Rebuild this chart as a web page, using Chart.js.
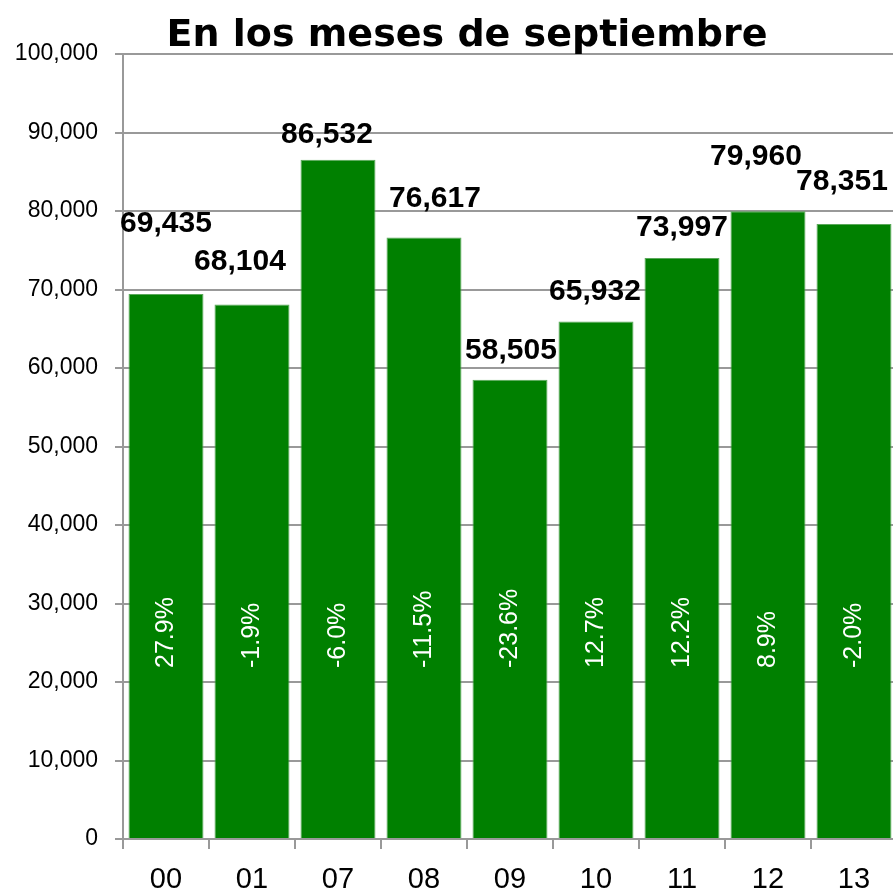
<!DOCTYPE html>
<html>
<head>
<meta charset="utf-8">
<script src="https://cdn.jsdelivr.net/npm/chart.js@4/dist/chart.umd.min.js"></script>
<style>
  html, body { margin: 0; padding: 0; background: #fff; overflow: hidden; }
  #wrap { width: 897px; height: 894px; }
</style>
</head>
<body>
<div id="wrap"><canvas id="myChart"></canvas></div>
<script>
var titleText = 'En los meses de septiembre';
var years = ['00', '01', '07', '08', '09', '10', '11', '12', '13'];
var visitors = [69435, 68104, 86532, 76617, 58505, 65932, 73997, 79960, 78351];
var change = [27.9, -1.9, -6.0, -11.5, -23.6, 12.7, 12.2, 8.9, -2.0];
var yTicks = [0, 10000, 20000, 30000, 40000, 50000, 60000, 70000, 80000, 90000, 100000];

// hand placement of the value labels, as in the original slide
var labelNudge = [[0, -70], [-12, -43], [-11, -25], [11, -39], [1, -29], [-1, -30], [0, -30], [-12, -55], [-12, -42]];

var gridGray = '#999999';

var labelsPlugin = {
    id: 'barLabels',
    afterDatasetsDraw: function(chart) {
        var ctx = chart.ctx;
        var meta = chart.getDatasetMeta(0);
        var yScale = chart.scales.y;
        ctx.save();
        meta.data.forEach(function(bar, i) {
            // value above the bar
            ctx.font = 'bold 30px "Liberation Sans", Arial, sans-serif';
            ctx.fillStyle = '#000';
            ctx.textAlign = 'center';
            ctx.textBaseline = 'middle';
            ctx.fillText(visitors[i].toLocaleString('en-US'), bar.x + labelNudge[i][0], bar.y + labelNudge[i][1]);
            // change inside the bar, rotated
            ctx.save();
            ctx.translate(bar.x, yScale.getPixelForValue(0) - 171);
            ctx.rotate(-Math.PI / 2);
            ctx.font = '25px "Liberation Sans", Arial, sans-serif';
            ctx.fillStyle = '#fff';
            ctx.textAlign = 'left';
            ctx.textBaseline = 'middle';
            ctx.fillText(change[i].toFixed(1) + '%', 0, 0);
            ctx.restore();
        });
        // title
        ctx.font = 'bold 38px "DejaVu Sans", sans-serif';
        ctx.fillStyle = '#000';
        ctx.textAlign = 'center';
        ctx.textBaseline = 'alphabetic';
        ctx.fillText(titleText, 467, 46);
        ctx.restore();
    }
};

var config = {
    type: 'bar',
    data: {
        labels: years,
        datasets: [{
            data: visitors,
            backgroundColor: '#008000',
            borderColor: '#5aa85a',
            borderWidth: 1,
            barPercentage: 0.872,
            categoryPercentage: 1.0
        }]
    },
    options: {
        responsive: true,
        maintainAspectRatio: false,
        animation: false,
        layout: { padding: { top: 54, left: 0, right: 0, bottom: 0 } },
        plugins: {
            legend: { display: false },
            title: { display: false },
            tooltip: { enabled: false }
        },
        scales: {
            x: {
                afterFit: function(scale) { scale.height = 55; },
                grid: {
                    offset: true,
                    drawOnChartArea: false,
                    drawTicks: true,
                    tickLength: 10,
                    color: gridGray,
                    lineWidth: 2
                },
                border: { display: true, color: gridGray, width: 2 },
                ticks: {
                    color: '#000',
                    padding: 14,
                    font: { family: '"Liberation Sans", Arial, sans-serif', size: 29 }
                }
            },
            y: {
                min: 0,
                max: 100000,
                afterFit: function(scale) { scale.width = 123; },
                afterBuildTicks: function(scale) {
                    scale.ticks = yTicks.map(function(v) { return { value: v }; });
                },
                grid: {
                    drawTicks: true,
                    tickLength: 8,
                    color: gridGray,
                    lineWidth: 2
                },
                border: { display: true, color: gridGray, width: 2 },
                ticks: {
                    color: '#000',
                    padding: 17,
                    font: { family: '"Liberation Sans", Arial, sans-serif', size: 23 },
                    callback: function(v) { return v.toLocaleString('en-US'); }
                }
            }
        }
    },
    plugins: [labelsPlugin]
};

window.onload = function() {
    var ctx = document.getElementById('myChart').getContext('2d');
    window.myBar = new Chart(ctx, config);
};
</script>
</body>
</html>
